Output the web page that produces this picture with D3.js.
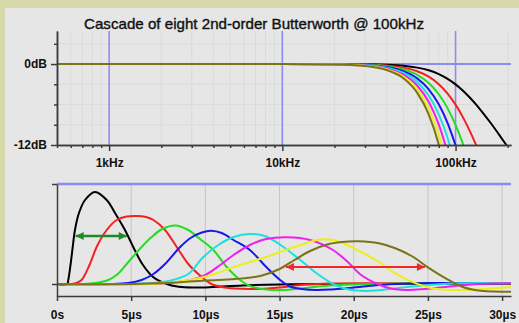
<!DOCTYPE html>
<html>
<head>
<meta charset="utf-8">
<script src="https://cdn.jsdelivr.net/npm/d3@7"></script>
<style>
  html, body { margin: 0; padding: 0; background: #d5d8a9; }
  svg { display: block; }
  .axis text { font-family: 'Liberation Sans', Arial, sans-serif; font-weight: bold; font-size: 12px; fill: #111; }
  .axis path, .axis line { stroke: #3c3c3c; stroke-width: 1.5; }
</style>
</head>
<body>
<svg id="chart" width="519" height="323"></svg>
<script>
// ---- Data: magnitude (dB) of 1..8 cascaded stages, sampled at FREQ_KHZ ----
const FREQ_KHZ = [0.5, 10, 20, 30, 40, 50, 60, 70, 80, 90, 100, 110, 120, 130, 140, 160, 180, 200];
const GAIN_1 = [0, 0, -0.01, -0.04, -0.11, -0.26, -0.53, -0.93, -1.49, -2.19, -3.01, -3.92, -4.88, -5.86, -6.85, -8.78, -10.61, -12.30];
const GAIN_2 = [0, 0, -0.01, -0.07, -0.22, -0.53, -1.06, -1.87, -2.98, -4.38, -6.02, -7.83, -9.75, -11.72, -13.70];
const GAIN_3 = [0, 0, -0.02, -0.11, -0.33, -0.79, -1.59, -2.80, -4.48, -6.57, -9.03, -11.75, -14.63];
const GAIN_4 = [0, 0, -0.03, -0.14, -0.44, -1.05, -2.12, -3.74, -5.97, -8.76, -12.04];
const GAIN_5 = [0, 0, -0.04, -0.18, -0.55, -1.32, -2.65, -4.67, -7.46, -10.96, -15.05];
const GAIN_6 = [0, 0, -0.04, -0.21, -0.66, -1.58, -3.18, -5.60, -8.95, -13.15];
const GAIN_7 = [0, 0, -0.05, -0.25, -0.77, -1.84, -3.71, -6.54, -10.44, -15.34];
const GAIN_8 = [0, 0, -0.06, -0.28, -0.88, -2.10, -4.24, -7.47, -11.94, -17.53];

// ---- Data: impulse responses, [time µs, amplitude] ----
const IMPULSE_1 = [[0,0],[0.68,0],[0.76,0.04],[0.92,0.2],[1.06,0.37],[1.21,0.54],[1.48,0.71],[1.89,0.84],[2.56,0.92],[3.35,0.84],[3.91,0.71],[4.58,0.54],[5.14,0.37],[5.75,0.2],[6.5,0.067],[7.3,0.005],[8.2,-0.028],[9.3,-0.035],[10.5,-0.03],[12.5,-0.015],[15,-0.005],[18,0],[30.6,0]];
const IMPULSE_2 = [[0,0],[1.0,0],[1.3,0.01],[1.66,0.04],[2.22,0.2],[2.67,0.37],[3.35,0.54],[4.02,0.64],[4.7,0.675],[5.37,0.68],[6.0,0.67],[6.5,0.64],[7.28,0.54],[8.07,0.37],[8.85,0.2],[9.64,0.085],[10.4,0.0],[11.3,-0.035],[12.5,-0.048],[13.7,-0.05],[15,-0.035],[16.4,-0.01],[18.5,0.005],[22,0.007],[30.6,0.004]];
const IMPULSE_3 = [[0,0],[1.7,0],[2.6,0.01],[3.46,0.04],[4.1,0.1],[4.7,0.2],[5.7,0.37],[6.38,0.47],[7.1,0.55],[7.96,0.585],[8.85,0.54],[9.64,0.45],[10.54,0.34],[11.44,0.17],[12.34,0.04],[13.0,-0.02],[14.1,-0.055],[15.2,-0.06],[16.4,-0.045],[18,-0.02],[20,-0.005],[23,0.005],[30.6,0.005]];
const IMPULSE_4 = [[0,0],[3.5,0],[4.8,0.01],[5.7,0.04],[6.5,0.1],[7.28,0.2],[8.3,0.37],[9.0,0.46],[9.76,0.515],[10.4,0.533],[11.1,0.51],[11.9,0.44],[13.0,0.34],[14.1,0.17],[15.04,0.04],[15.7,-0.025],[16.5,-0.05],[17.5,-0.06],[18.5,-0.055],[19.4,-0.045],[21,-0.02],[22.8,0],[25,0.01],[30.6,0.008]];
const IMPULSE_5 = [[0,0],[5,0],[6.5,0.01],[7.5,0.03],[8.85,0.1],[9.8,0.26],[10.77,0.38],[11.9,0.47],[13.0,0.50],[14.1,0.475],[15.26,0.37],[16.4,0.24],[17.5,0.107],[18.6,0.0],[19.5,-0.05],[20.5,-0.068],[21.5,-0.065],[23,-0.04],[25,-0.01],[27,0.008],[30.6,0.01]];
const IMPULSE_6 = [[0,0],[6,0],[7.5,0.01],[9,0.04],[10,0.09],[11,0.19],[11.9,0.29],[13,0.39],[14.1,0.45],[15.5,0.467],[17.06,0.44],[18.6,0.34],[19.6,0.22],[20.5,0.09],[21.6,0],[22.5,-0.045],[23.5,-0.06],[24.8,-0.05],[26.2,-0.03],[28.4,0],[30.6,0.007]];
const IMPULSE_7 = [[0,0],[6.5,0],[8,0.02],[9.64,0.06],[10.8,0.11],[11.9,0.17],[14.1,0.27],[16.4,0.39],[17.8,0.447],[18.6,0.44],[19.4,0.40],[20.5,0.32],[21.7,0.22],[22.8,0.107],[23.9,0.023],[25.0,-0.033],[26.2,-0.058],[27.3,-0.06],[28.8,-0.05],[30.6,-0.03]];
const IMPULSE_8 = [[0,0],[5,0],[7.5,0.01],[10,0.035],[12,0.05],[13.7,0.08],[15.0,0.15],[16.0,0.24],[17.06,0.33],[18.2,0.395],[19.2,0.42],[20.3,0.427],[21.7,0.407],[22.8,0.357],[23.9,0.28],[25.0,0.167],[26.2,0.057],[27.3,-0.027],[28.4,-0.065],[29.5,-0.075],[30.6,-0.077]];

// Width markers: [start µs, end µs, amplitude]
const ARROW_FIRST = [1.26, 4.70, 0.48];
const ARROW_LAST  = [15.43, 24.8, 0.17];

// ---- Ticks ----
const DB_TICKS = [0, -12];
const DB_LABELS = ['0dB', '-12dB'];
const DB_MINOR = [3, -3, -6, -9];
const FREQ_TICKS = [1000, 10000, 100000];
const FREQ_LABELS = ['1kHz', '10kHz', '100kHz'];
const TIME_TICKS = [0, 5, 10, 15, 20, 25, 30];
const TIME_LABELS = ['0s', '5µs', '10µs', '15µs', '20µs', '25µs', '30µs'];

const TITLE = 'Cascade of eight 2nd-order Butterworth @ 100kHz';

const GAINS = [GAIN_1, GAIN_2, GAIN_3, GAIN_4, GAIN_5, GAIN_6, GAIN_7, GAIN_8];
const IMPULSES = [IMPULSE_1, IMPULSE_2, IMPULSE_3, IMPULSE_4, IMPULSE_5, IMPULSE_6, IMPULSE_7, IMPULSE_8];
const COLORS = ['#000000', '#f42020', '#22dd22', '#1818ea', '#20dede', '#ee20ee', '#eeee1c', '#7a7318'];

const BLUE = '#8c8cf0';
const GRID = '#dbdbdb';

const svg = d3.select('#chart');

// Panel
svg.append('rect')
  .attr('x', 5).attr('y', 8)
  .attr('width', 514).attr('height', 315)
  .attr('fill', '#e6e6e6');

// ---- Upper plot: magnitude ----
const L = 57, R = 511;
const fx = d3.scaleLog().domain([500, 209000]).range([L, R]);
const fy = d3.scaleLinear().domain([-12, 4.9]).range([145, 31]);

const up = svg.append('g');

up.append('defs').append('clipPath').attr('id', 'clipUp')
  .append('rect').attr('x', L).attr('y', fy.range()[1])
  .attr('width', R - L).attr('height', fy.range()[0] - fy.range()[1]);

const minorF = fx.ticks().filter(f => !FREQ_TICKS.includes(f));

// faint grid
up.append('g').selectAll('line').data(minorF).join('line')
  .attr('x1', d => fx(d)).attr('x2', d => fx(d))
  .attr('y1', fy.range()[1]).attr('y2', fy.range()[0])
  .attr('stroke', GRID).attr('stroke-width', 1);
up.append('g').selectAll('line').data(DB_MINOR).join('line')
  .attr('x1', L).attr('x2', R)
  .attr('y1', d => fy(d)).attr('y2', d => fy(d))
  .attr('stroke', GRID).attr('stroke-width', 1);

// blue reference lines
up.append('g').selectAll('line').data(FREQ_TICKS).join('line')
  .attr('x1', d => fx(d)).attr('x2', d => fx(d))
  .attr('y1', fy.range()[1]).attr('y2', fy.range()[0])
  .attr('stroke', BLUE).attr('stroke-width', 1.6);
up.append('line')
  .attr('x1', L).attr('x2', R)
  .attr('y1', fy(0)).attr('y2', fy(0))
  .attr('stroke', BLUE).attr('stroke-width', 2);

const gainLine = d3.line()
  .x((d, i) => fx(FREQ_KHZ[i] * 1000))
  .y(d => fy(d))
  .curve(d3.curveMonotoneX);

up.append('g').attr('clip-path', 'url(#clipUp)')
  .selectAll('path').data(GAINS).join('path')
  .attr('d', gainLine)
  .attr('fill', 'none')
  .attr('stroke', (d, i) => COLORS[i])
  .attr('stroke-width', 2);

// axes
up.append('g').attr('class', 'axis')
  .attr('transform', `translate(0,${fy(-12)})`)
  .call(d3.axisBottom(fx).tickValues(minorF).tickSize(3).tickSizeOuter(0).tickFormat(''));
up.append('g').attr('class', 'axis')
  .attr('transform', `translate(0,${fy(-12)})`)
  .call(d3.axisBottom(fx).tickValues(FREQ_TICKS).tickSize(6).tickSizeOuter(0).tickPadding(7)
    .tickFormat((d, i) => FREQ_LABELS[i]));
up.append('g').attr('class', 'axis')
  .attr('transform', `translate(${L},0)`)
  .call(d3.axisLeft(fy).tickValues(DB_MINOR).tickSize(3).tickSizeOuter(0).tickFormat(''));
up.append('g').attr('class', 'axis')
  .attr('transform', `translate(${L},0)`)
  .call(d3.axisLeft(fy).tickValues(DB_TICKS).tickSize(6).tickSizeOuter(0).tickPadding(4)
    .tickFormat((d, i) => DB_LABELS[i]));

svg.append('text')
  .attr('x', 254).attr('y', 29)
  .attr('text-anchor', 'middle')
  .attr('font-family', "'Liberation Sans', Arial, sans-serif")
  .attr('font-size', 14.5)
  .attr('fill', '#111')
  .attr('stroke', '#111')
  .attr('stroke-width', 0.35)
  .attr('textLength', 340)
  .attr('lengthAdjust', 'spacingAndGlyphs')
  .text(TITLE);

// ---- Lower plot: impulse responses ----
const tx = d3.scaleLinear().domain([0, 30.6]).range([L, R]);
const vy = d3.scaleLinear().domain([-0.12, 1]).range([296, 184]);

const lo = svg.append('g');

lo.append('defs').append('clipPath').attr('id', 'clipLo')
  .append('rect').attr('x', L).attr('y', vy.range()[1])
  .attr('width', R - L).attr('height', vy.range()[0] - vy.range()[1]);

lo.append('g').selectAll('line').data(TIME_TICKS.filter(t => t > 0)).join('line')
  .attr('x1', d => tx(d)).attr('x2', d => tx(d))
  .attr('y1', vy(1)).attr('y2', vy(-0.12))
  .attr('stroke', '#c6c6c6').attr('stroke-width', 1);

lo.append('line')
  .attr('x1', L).attr('x2', R)
  .attr('y1', vy(1)).attr('y2', vy(1))
  .attr('stroke', BLUE).attr('stroke-width', 2.4);

const pulseLine = d3.line()
  .x(d => tx(d[0]))
  .y(d => vy(d[1]))
  .curve(d3.curveCatmullRom.alpha(0.5));

lo.append('g').attr('clip-path', 'url(#clipLo)')
  .selectAll('path').data(IMPULSES).join('path')
  .attr('d', pulseLine)
  .attr('fill', 'none')
  .attr('stroke', (d, i) => COLORS[i])
  .attr('stroke-width', 2);

lo.append('g').attr('class', 'axis')
  .attr('transform', `translate(0,${vy(-0.12)})`)
  .call(d3.axisBottom(tx).tickValues(TIME_TICKS).tickSize(5).tickSizeOuter(0).tickPadding(9)
    .tickFormat((d, i) => TIME_LABELS[i]));
lo.append('g').attr('class', 'axis')
  .attr('transform', `translate(${L},0)`)
  .call(d3.axisLeft(vy).tickValues([0, 1]).tickSize(5).tickSizeOuter(0).tickFormat(''));

// double-headed width arrows
const defs = svg.append('defs');
function marker(id, color) {
  defs.append('marker')
    .attr('id', id)
    .attr('viewBox', '0 0 10 10')
    .attr('refX', 10).attr('refY', 5)
    .attr('markerUnits', 'userSpaceOnUse')
    .attr('markerWidth', 9).attr('markerHeight', 8)
    .attr('orient', 'auto-start-reverse')
    .append('path').attr('d', 'M0,0L10,5L0,10z').attr('fill', color);
}
marker('arrGreen', '#1e8a2a');
marker('arrRed', '#f02828');

[[ARROW_FIRST, '#1e8a2a', 'arrGreen', 2.6], [ARROW_LAST, '#f02828', 'arrRed', 2]].forEach(([a, c, m, w]) => {
  lo.append('line')
    .attr('x1', tx(a[0])).attr('x2', tx(a[1]))
    .attr('y1', vy(a[2])).attr('y2', vy(a[2]))
    .attr('stroke', c).attr('stroke-width', w)
    .attr('marker-start', `url(#${m})`)
    .attr('marker-end', `url(#${m})`);
});
</script>
</body>
</html>
